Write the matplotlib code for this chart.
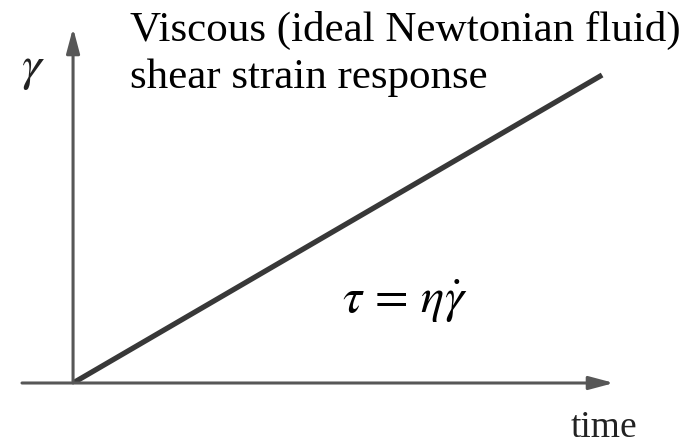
import matplotlib
matplotlib.use("Agg")
import matplotlib.pyplot as plt

# shear strain of an ideal Newtonian fluid under constant stress: linear in time
time = [0.0, 10.0]
strain = [0.0, 1.0]

INK = "#383838"
AXIS = "#575757"

plt.rcParams["mathtext.fontset"] = "stix"
plt.rcParams["font.family"] = ["Liberation Serif", "DejaVu Serif"]

fig = plt.figure(figsize=(6.88, 4.44), dpi=100)
fig.patch.set_facecolor("white")

W, H = 688, 444
# axes box in pixels: left 22, right 614, bottom spine at y=383, top arrow tip at y=28
ax = fig.add_axes([22 / W, (H - 383) / H, 592 / W, 355 / H])
ax.set_xlim(-0.965, 10.225)
ax.set_ylim(0, 355 / 308)
ax.axis("off")

ax.plot(time, strain, color=INK, lw=3.8, solid_capstyle="butt", zorder=3)

arrow = dict(arrowstyle="-|>,head_length=1.5,head_width=0.4", color=AXIS, lw=2.2,
             shrinkA=0, shrinkB=0)
# horizontal (time) axis
ax.annotate("", xy=(1.0, 0.0), xytext=(0.0, 0.0), xycoords="axes fraction",
            arrowprops=arrow)
# vertical (strain) axis from the origin
ax.annotate("", xy=(0.0, 1.0), xytext=(0.0, 0.0), xycoords=("data", "axes fraction"),
            textcoords=("data", "axes fraction"), arrowprops=arrow)

fig.text(21 / W, 1 - 45 / H, r"$\gamma$", fontsize=36, color="#222222",
         ha="left", va="top")

fig.text(130 / W, 1 - 41 / H, "Viscous (ideal Newtonian fluid)", fontsize=31,
         color="black", ha="left", va="baseline")
fig.text(130 / W, 1 - 88 / H, "shear strain response", fontsize=31,
         color="black", ha="left", va="baseline")

fig.text(342 / W, 1 - 313 / H, r"$\tau\,=\,\eta\dot{\gamma}$", fontsize=35,
         color="black", ha="left", va="baseline")

fig.text(571 / W, 1 - 437 / H, "time", fontsize=27, color="#222222",
         ha="left", va="baseline")

fig.savefig("out.png", dpi=100, facecolor="white")
